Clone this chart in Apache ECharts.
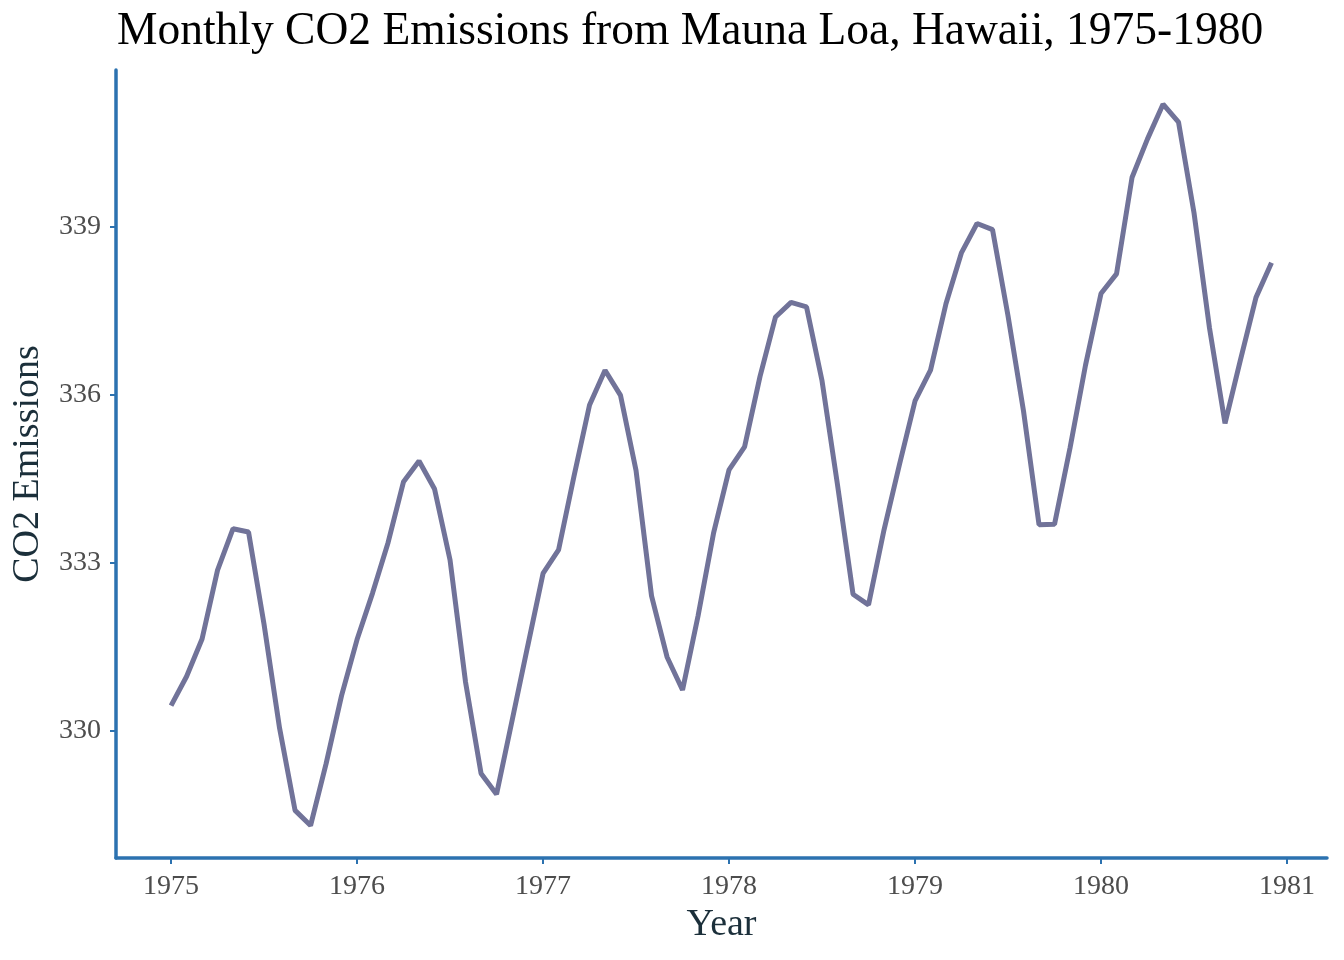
<!DOCTYPE html>
<html>
<head>
<meta charset="utf-8">
<script src="https://cdn.jsdelivr.net/npm/echarts@6/dist/echarts.min.js"></script>
<style>html,body{margin:0;padding:0;background:#fff;}#c{width:1344px;height:960px;}</style>
</head>
<body>
<div id="c"></div>
<script>
const years = [1975, 1976, 1977, 1978, 1979, 1980];
const co2_1975 = [330.45, 330.97, 331.64, 332.87, 333.61, 333.55, 331.90, 330.05, 328.58, 328.31, 329.41, 330.63];
const co2_1976 = [331.63, 332.46, 333.36, 334.45, 334.82, 334.32, 333.05, 330.87, 329.24, 328.87, 330.18, 331.50];
const co2_1977 = [332.81, 333.23, 334.55, 335.82, 336.44, 335.99, 334.65, 332.41, 331.32, 330.73, 332.05, 333.53];
const co2_1978 = [334.66, 335.07, 336.33, 337.39, 337.65, 337.57, 336.25, 334.39, 332.44, 332.25, 333.59, 334.76];
const co2_1979 = [335.89, 336.44, 337.63, 338.54, 339.06, 338.95, 337.41, 335.71, 333.68, 333.69, 335.05, 336.53];
const co2_1980 = [337.81, 338.16, 339.88, 340.57, 341.19, 340.87, 339.25, 337.19, 335.49, 336.63, 337.74, 338.36];
const xTicks = [1975, 1976, 1977, 1978, 1979, 1980, 1981];
const yTicks = [330, 333, 336, 339];

const allYears = [co2_1975, co2_1976, co2_1977, co2_1978, co2_1979, co2_1980];
const data = [];
allYears.forEach((arr, yi) => {
  arr.forEach((v, m) => data.push([years[yi] + m / 12, v]));
});

const font = '"Liberation Serif", "DejaVu Serif", serif';
const axisColor = '#2c72b0';
const chart = echarts.init(document.getElementById('c'));
chart.setOption({
  backgroundColor: '#ffffff',
  animation: false,
  title: {
    text: 'Monthly CO2 Emissions from Mauna Loa, Hawaii, 1975-1980',
    left: 112, top: 4,
    textStyle: { fontFamily: font, fontSize: 45.5, fontWeight: 'normal', color: '#000000' }
  },
  grid: { left: 116, right: 17, top: 70, bottom: 102, containLabel: false },
  xAxis: {
    type: 'value',
    min: 1974.704, max: 1981.215,
    name: 'Year', nameLocation: 'middle', nameGap: 47,
    nameTextStyle: { fontFamily: font, fontSize: 38, color: '#1b2f3a' },
    axisLine: { show: true, onZero: false, lineStyle: { color: axisColor, width: 3.5 } },
    axisTick: { show: true, length: 6, customValues: xTicks, lineStyle: { color: axisColor, width: 2 } },
    axisLabel: { customValues: xTicks, fontFamily: font, fontSize: 28, color: '#4d4d4d', margin: 15, formatter: v => String(Math.round(v)) },
    splitLine: { show: false }
  },
  yAxis: {
    type: 'value',
    min: 327.73, max: 341.8,
    name: 'CO2 Emissions', nameLocation: 'middle', nameGap: 69, nameRotate: 90,
    nameTextStyle: { fontFamily: font, fontSize: 38, color: '#1b2f3a' },
    axisLine: { show: true, onZero: false, lineStyle: { color: axisColor, width: 3.5 } },
    axisTick: { show: true, length: 6, customValues: yTicks, lineStyle: { color: axisColor, width: 2 } },
    axisLabel: { customValues: yTicks, fontFamily: font, fontSize: 28, color: '#4d4d4d', margin: 15 },
    splitLine: { show: false }
  },
  series: [{
    type: 'line',
    data: data,
    showSymbol: false,
    lineStyle: { color: '#717399', width: 5 },
    itemStyle: { color: '#717399' }
  }]
});
</script>
</body>
</html>
